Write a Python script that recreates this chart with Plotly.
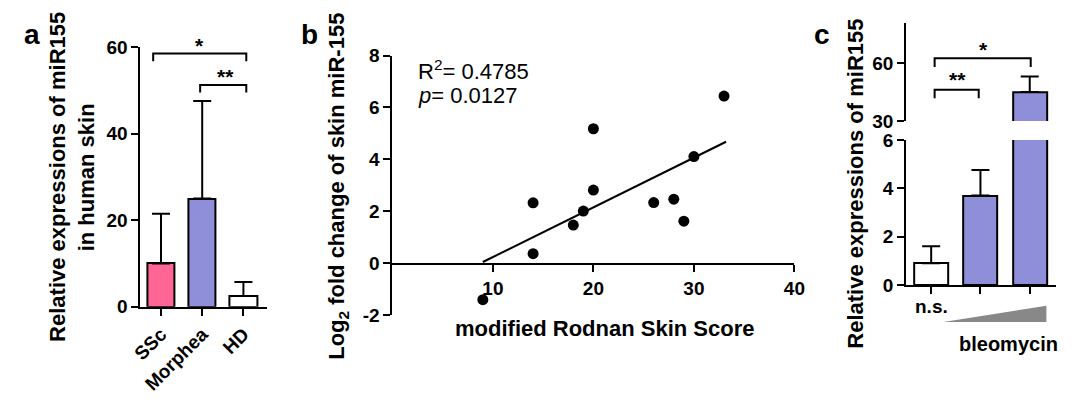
import plotly.graph_objects as go

# ---------------- data ----------------
a_categories = ["SSc", "Morphea", "HD"]
a_means = [10.0, 25.0, 2.5]
a_sd = [11.5, 22.5, 3.2]
a_colors = ["#FF6695", "#8F8FD9", "#FFFFFF"]

b_mrss = [9, 14, 14, 18, 19, 20, 20, 26, 28, 29, 30, 33]
b_log2fc = [-1.4, 2.33, 0.37, 1.47, 2.01, 5.18, 2.82, 2.34, 2.47, 1.62, 4.11, 6.44]
b_fit_x = [9.0, 33.2]
b_fit_y = [0.05, 4.68]
b_r2 = "0.4785"
b_p = "0.0127"
b_yticks = [-2, 0, 2, 4, 6, 8]
b_yticklabels = ["-2", "0", "2", "4", "6", "8"]
b_xticks = [10, 20, 30, 40]

c_groups = ["n.s.", "bleo low", "bleo high"]
c_means = [0.9, 3.7, 45.0]
c_sd = [0.7, 1.05, 8.0]
c_colors = ["#FFFFFF", "#8F8FD9", "#8F8FD9"]

# brackets: (x_left, x_right, y_top, y_leg, label)
a_brackets = [(-0.19, 2.07, 58.5, 56.7, "*"), (0.95, 2.07, 51.2, 49.5, "**")]
c_brackets = [(0.07, 2.02, 62.5, 58.0, "*"), (0.07, 0.965, 46.2, 41.8, "**")]

FONT = "Liberation Sans, Arial, sans-serif"
W, H = 1077, 404


def px(x):
    return x / W


def py(y):
    return 1 - y / H


fig = go.Figure()

# ---------------- panel a ----------------
fig.add_trace(go.Bar(
    x=[0, 1, 2], y=a_means, width=0.66,
    marker=dict(color=a_colors, line=dict(color="black", width=2)),
    error_y=dict(type="data", symmetric=False, array=a_sd, arrayminus=[0, 0, 0],
                 color="black", thickness=2, width=9),
    xaxis="x", yaxis="y", showlegend=False))

# ---------------- panel b ----------------
fig.add_trace(go.Scatter(
    x=b_fit_x, y=b_fit_y, mode="lines", line=dict(color="black", width=2),
    xaxis="x2", yaxis="y2", showlegend=False))
fig.add_trace(go.Scatter(
    x=b_mrss, y=b_log2fc, mode="markers", marker=dict(color="black", size=11),
    xaxis="x2", yaxis="y2", showlegend=False, cliponaxis=False))

# ---------------- panel c (broken axis: lower + upper) ----------------
for xa, ya in (("x3", "y3"), ("x4", "y4")):
    fig.add_trace(go.Bar(
        x=[0, 1, 2], y=c_means, width=0.69,
        marker=dict(color=c_colors, line=dict(color="black", width=2)),
        error_y=dict(type="data", symmetric=False, array=c_sd, arrayminus=[0, 0, 0],
                     color="black", thickness=2, width=9),
        xaxis=xa, yaxis=ya, showlegend=False))

axis_common = dict(showline=True, linecolor="black", linewidth=2, ticks="outside",
                   ticklen=7, tickwidth=2, tickcolor="black", showgrid=False,
                   zeroline=False, tickfont=dict(family=FONT, size=19, color="black", weight="bold"))

fig.update_layout(
    width=W, height=H, margin=dict(l=0, r=0, t=0, b=0),
    paper_bgcolor="white", plot_bgcolor="rgba(0,0,0,0)",
    font=dict(family=FONT, color="black"),
    bargap=0,
    xaxis=dict(domain=[px(133), px(262)], range=[-0.5, 2.57], anchor="y",
               tickvals=[0, 1, 2], ticktext=a_categories, tickangle=-45, **axis_common),
    yaxis=dict(domain=[py(313), py(39)], range=[0, 60], anchor="x",
               tickvals=[0, 20, 40, 60], **axis_common),
    xaxis2=dict(domain=[px(390), px(800)], range=[0, 40], anchor="free", position=py(268),
                tickvals=b_xticks, **axis_common),
    yaxis2=dict(domain=[py(322), py(48)], range=[-2, 8], anchor="x2",
                tickvals=b_yticks, ticktext=b_yticklabels, **axis_common),
    xaxis3=dict(domain=[px(914), px(1067)], range=[-0.507, 2.537], anchor="y3",
                tickvals=[0, 1, 2], showticklabels=False, **axis_common),
    yaxis3=dict(domain=[py(290), py(137)], range=[0, 6], anchor="x3",
                tickvals=[0, 2, 4, 6], **axis_common),
    xaxis4=dict(domain=[px(914), px(1067)], range=[-0.507, 2.537], anchor="y4",
                visible=False, matches="x3"),
    yaxis4=dict(domain=[py(117), py(14)], range=[30, 80.66], anchor="x4",
                tickvals=[30, 60], **axis_common),
)

shapes = []
annotations = []


def bracket(brs, xref, yref):
    for x0, x1, yt, yl, lab in brs:
        shapes.append(dict(type="path", xref=xref, yref=yref,
                           path=f"M {x0},{yl} L {x0},{yt} L {x1},{yt} L {x1},{yl}",
                           line=dict(color="black", width=2)))


bracket(a_brackets, "x", "y")
bracket(c_brackets, "x4", "y4")


def txt(x, y, text, size, angle=0, bold=True, xanchor="center"):
    annotations.append(dict(x=px(x), y=py(y), xref="paper", yref="paper", text=text,
                            showarrow=False, textangle=angle, xanchor=xanchor, yanchor="middle",
                            borderpad=0,
                            font=dict(family=FONT, size=size, color="black",
                                      weight="bold" if bold else "normal")))


# significance stars
txt(193, 37, "*", 21)
txt(220, 70, "**", 21)
txt(993, 42, "*", 21)
txt(966, 73, "**", 21)

# panel labels
txt(22, 26, "a", 28)
txt(305, 26, "b", 28)
txt(828, 26, "c", 28)

# axis titles
txt(49, 176, "Relative expressions of miR155", 22, angle=-90)
txt(78, 176, "in human skin", 22, angle=-90)
txt(335, 186, "Log<sub>2</sub> fold change of skin miR-155", 22, angle=-90)
txt(606, 336, "modified Rodnan Skin Score", 22)
txt(862, 183, "Relative expressions of miR155", 22, angle=-90)

# stats text
txt(415, 63, f"R<sup>2</sup>= {b_r2}", 22, bold=False, xanchor="left")
txt(415, 90, f"<i>p</i>= {b_p}", 22, bold=False, xanchor="left")

# panel c x labels
txt(940, 313, "n.s.", 19)
txt(1018, 352, "bleomycin", 20)

# bleomycin gradient triangle
shapes.append(dict(type="path", xref="paper", yref="paper",
                   path=f"M {px(952)},{py(329)} L {px(1057)},{py(329)} L {px(1057)},{py(312)} Z",
                   fillcolor="#888888", line=dict(width=0)))

fig.update_layout(shapes=shapes, annotations=annotations)

fig.write_html("out.html", config={"displayModeBar": False},
               post_script="document.body.style.margin='0';document.body.style.padding='0';")
